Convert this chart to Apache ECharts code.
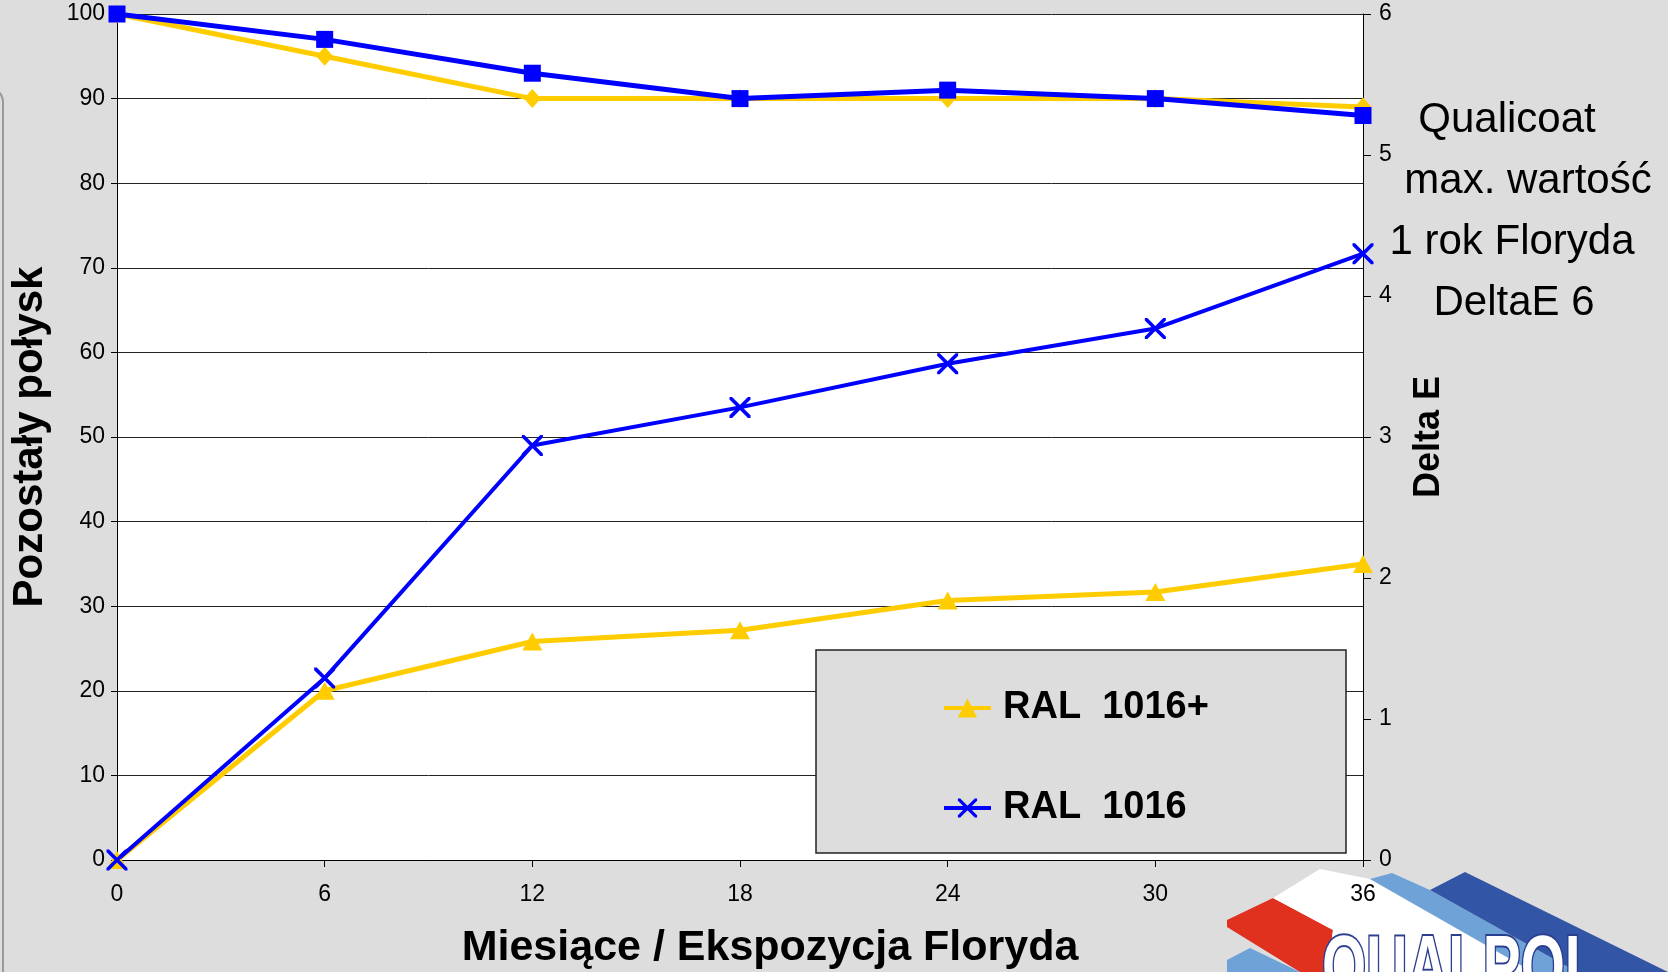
<!DOCTYPE html>
<html>
<head>
<meta charset="utf-8">
<script src="https://cdn.jsdelivr.net/npm/echarts@6/dist/echarts.min.js"></script>
<style>
  html, body { margin: 0; padding: 0; background: #dddddd; }
  #chart { width: 1668px; height: 972px; }
</style>
</head>
<body>
<div id="chart"></div>
<script>
const months = [0, 6, 12, 18, 24, 30, 36];
// remaining gloss, left axis
const gloss1016plus = [100, 95, 90, 90, 90, 90, 89];
const gloss1016 = [100, 97, 93, 90, 91, 90, 88];
// delta E, right axis
const deltaE1016plus = [0, 1.2, 1.55, 1.63, 1.84, 1.9, 2.1];
const deltaE1016 = [0, 1.29, 2.94, 3.21, 3.52, 3.77, 4.3];
const legendNames = ['RAL  1016+', 'RAL  1016'];
const noteLines = ['Qualicoat', 'max. wartość', '1 rok Floryda', 'DeltaE 6'];

const FONT = '"Liberation Sans", Arial, sans-serif';
const YELLOW = '#ffcc00';
const BLUE = '#0000ff';
const crossSymbol = 'path://M0,0L1.2,0L10,8.8L10,10L8.8,10L0,1.2Z M8.8,0L10,0L10,1.2L1.2,10L0,10L0,8.8Z';

const pairs = vals => months.map((m, i) => [m, vals[i]]);

const chart = echarts.init(document.getElementById('chart'));

// note beside the right axis, each line a little off centre like the original
const noteX = [1507, 1528, 1512, 1514];
const note = noteLines.map((t, i) => ({
  type: 'text', z: 1, silent: true,
  x: noteX[i], y: 120 + i * 61,
  style: {
    text: t, font: '42px ' + FONT, fill: '#000',
    align: 'center', verticalAlign: 'middle',
    textAlign: 'center', textVerticalAlign: 'middle'
  }
}));

const logo = [
  { points: [[1227, 920], [1273, 898], [1333, 930], [1327, 972], [1300, 972], [1227, 927]], fill: '#e0301e' },
  { points: [[1227, 960], [1250, 948], [1300, 972], [1227, 972]], fill: '#6fa3d8' },
  { points: [[1273, 898], [1320, 869], [1370, 879], [1533, 972], [1327, 972], [1333, 930]], fill: '#ffffff' },
  { points: [[1370, 879], [1392, 873], [1430, 890], [1577, 972], [1533, 972]], fill: '#6fa3d8' },
  { points: [[1430, 890], [1465, 872], [1668, 972], [1577, 972]], fill: '#3355a5' }
].map(p => ({
  type: 'polygon', z: -1, silent: true,
  shape: { points: p.points },
  style: { fill: p.fill }
}));

chart.setOption({
  backgroundColor: '#dddddd',
  animation: false,
  textStyle: { fontFamily: FONT },
  grid: {
    left: 117, right: 305, top: 14, bottom: 112,
    outerBoundsMode: 'none',
    show: true, backgroundColor: '#ffffff', borderWidth: 0
  },
  legend: {
    data: legendNames,
    orient: 'vertical',
    left: 937, top: 683,
    itemWidth: 47, itemHeight: 24,
    itemGap: 60,
    z: 5,
    lineStyle: { width: 4 },
    textStyle: {
      fontFamily: FONT, fontSize: 38, fontWeight: 'bold', color: '#000',
      lineHeight: 40, padding: [0, 0, 0, 7]
    }
  },
  xAxis: {
    type: 'value', min: 0, max: 36, interval: 6,
    name: 'Miesiące / Ekspozycja Floryda',
    nameLocation: 'middle', nameGap: 67,
    nameTextStyle: { fontFamily: FONT, fontSize: 43, fontWeight: 'bold', color: '#000', padding: [0, 0, 0, 60] },
    axisLine: { lineStyle: { color: '#000', width: 1 } },
    axisTick: { show: true, length: 7, lineStyle: { color: '#000' } },
    axisLabel: { color: '#000', fontSize: 23, margin: 23 },
    splitLine: { show: false }
  },
  yAxis: [
    {
      type: 'value', min: 0, max: 100, interval: 10,
      name: 'Pozostały połysk',
      nameLocation: 'middle', nameGap: 66, nameRotate: 90,
      nameTextStyle: { fontFamily: FONT, fontSize: 42, fontWeight: 'bold', color: '#000' },
      axisLine: { show: true, lineStyle: { color: '#000', width: 1 } },
      axisTick: { show: true, length: 6, lineStyle: { color: '#000' } },
      axisLabel: { color: '#000', fontSize: 23, margin: 12 },
      splitLine: { show: true, lineStyle: { color: '#222', width: 1 } }
    },
    {
      type: 'value', min: 0, max: 6, interval: 1, position: 'right',
      name: 'Delta E',
      nameLocation: 'middle', nameGap: 48, nameRotate: 90,
      nameTextStyle: { fontFamily: FONT, fontSize: 36, fontWeight: 'bold', color: '#000' },
      axisLine: { show: true, lineStyle: { color: '#000', width: 1 } },
      axisTick: { show: true, length: 8, lineStyle: { color: '#000' } },
      axisLabel: { color: '#000', fontSize: 23, margin: 16 },
      splitLine: { show: false }
    }
  ],
  graphic: [
    {
      type: 'rect', z: 3, silent: true,
      shape: { x: 816, y: 650, width: 530, height: 203 },
      style: { fill: '#dddddd', stroke: '#222', lineWidth: 1.5 }
    },
    {
      type: 'rect', z: 1, silent: true,
      shape: { x: -30, y: 88, width: 33, height: 1000, r: 14 },
      style: { fill: 'none', stroke: '#999', lineWidth: 2 }
    },
    ...note,
    ...logo,
    {
      type: 'text', z: -1, silent: true,
      x: 1322, y: 928, scaleX: 0.66,
      style: {
        text: 'QUALPOL',
        font: '900 86px ' + FONT,
        fill: '#ffffff', stroke: '#2a3f8f', lineWidth: 4,
        align: 'left', verticalAlign: 'top',
        textAlign: 'left', textVerticalAlign: 'top'
      }
    }
  ],
  series: [
    {
      name: 'Połysk RAL 1016+', type: 'line', yAxisIndex: 0,
      data: pairs(gloss1016plus),
      symbol: 'diamond', symbolSize: [17, 19],
      lineStyle: { color: YELLOW, width: 5 },
      itemStyle: { color: YELLOW }
    },
    {
      name: 'Połysk RAL 1016', type: 'line', yAxisIndex: 0,
      data: pairs(gloss1016),
      symbol: 'rect', symbolSize: 17,
      lineStyle: { color: BLUE, width: 5 },
      itemStyle: { color: BLUE }
    },
    {
      name: legendNames[0], type: 'line', yAxisIndex: 1,
      data: pairs(deltaE1016plus),
      symbol: 'triangle', symbolSize: [20, 18],
      lineStyle: { color: YELLOW, width: 5 },
      itemStyle: { color: YELLOW }
    },
    {
      name: legendNames[1], type: 'line', yAxisIndex: 1,
      data: pairs(deltaE1016),
      symbol: crossSymbol, symbolSize: 21,
      lineStyle: { color: BLUE, width: 4 },
      itemStyle: { color: BLUE }
    }
  ]
});

window.addEventListener('resize', () => chart.resize());
</script>
</body>
</html>
